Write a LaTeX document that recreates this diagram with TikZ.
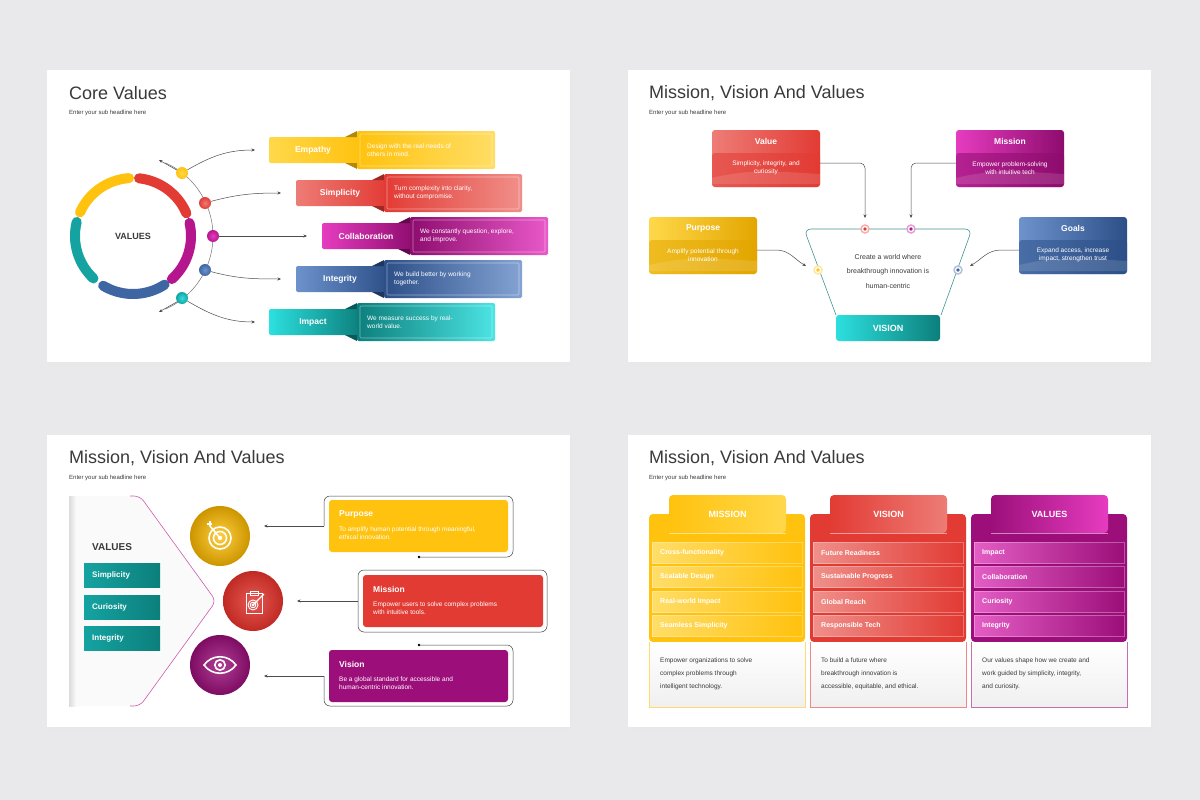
\documentclass[tikz,border=0pt]{standalone}
\usepackage{fontspec}
\setmainfont{Liberation Sans}
\usetikzlibrary{arrows.meta}
\definecolor{bgc}{HTML}{E9E8EA}
\definecolor{ttl}{HTML}{3A3A3A}
\definecolor{yelL}{HTML}{FFD84A}\definecolor{yel}{HTML}{FFC20E}\definecolor{yelD}{HTML}{E3A600}
\definecolor{redL}{HTML}{EE7C76}\definecolor{red}{HTML}{E23B34}\definecolor{redD}{HTML}{C02A24}
\definecolor{magL}{HTML}{E63CC0}\definecolor{mag}{HTML}{B5168E}\definecolor{magD}{HTML}{8E0C6E}
\definecolor{bluL}{HTML}{6E93CC}\definecolor{blu}{HTML}{3E66A3}\definecolor{bluD}{HTML}{2C4F88}
\definecolor{tealL}{HTML}{2CE0DF}\definecolor{teal}{HTML}{14A3A1}\definecolor{tealD}{HTML}{0C7F7C}
\definecolor{pur}{HTML}{9C0F7A}
\tikzset{
 slide/.style={fill=white},
 shadowr/.style={fill=black!9},
 ttlt/.style={anchor=west,text=ttl,font=\fontsize{18}{20}\selectfont,inner sep=0},
 subt/.style={anchor=west,text=ttl,font=\fontsize{6}{7}\selectfont,inner sep=0},
 lab/.style={text=white,font=\bfseries\fontsize{8.5}{9}\selectfont,inner sep=0},
 desc/.style={text=white,font=\fontsize{6.5}{8.5}\selectfont,inner sep=0,align=left,anchor=west},
 conn/.style={draw=black!70,line width=.5,-{Stealth[length=3.5,width=3]}},
 dot/.style={circle,inner sep=0,minimum size=12},
}
\newcommand\cvrow[7]{%
 \shade[left color=#3,right color=#4,rounded corners=2] ({#1},{#2-13}) rectangle ({#1+92},{#2+13});
 \node[lab] (#7) at ({#1+44},{#2}) {#5};
 \fill[#4!70!black] ({#1+76},{#2-13}) -- ({#1+88},{#2-19}) -- ({#1+88},{#2-13}) -- cycle;
 \fill[#4!70!black] ({#1+76},{#2+13}) -- ({#1+88},{#2+19}) -- ({#1+88},{#2+13}) -- cycle;
 \shade[left color=#4,right color=#3!85!white,rounded corners=1.5] ({#1+88},{#2-19}) rectangle ({#1+226},{#2+19});
 \draw[white,opacity=.45,line width=.6,rounded corners=1] ({#1+91},{#2-16}) rectangle ({#1+223},{#2+16});
 \node[desc] at ({#1+98},{#2}) {#6};
}
\newcommand\mvbox[7]{%
 \shade[left color=#3,right color=#4,rounded corners=3] ({#1},{#2}) rectangle ({#1+108},{#2+57});
 \fill[#4,opacity=.55,rounded corners=3] ({#1},{#2+23}) -- ({#1+108},{#2+23}) -- ({#1+108},{#2+57}) -- ({#1},{#2+57}) -- cycle;
 \fill[white,opacity=.12] ({#1},{#2+48}) .. controls ({#1+40},{#2+38}) and ({#1+70},{#2+42}) .. ({#1+108},{#2+44}) -- ({#1+108},{#2+54}) -- ({#1},{#2+54}) -- cycle;
 \node[lab] (#7) at ({#1+54},{#2+11}) {#5};
 \node[text=white,font=\fontsize{6.5}{8.5}\selectfont,align=center,inner sep=0] (#7d) at ({#1+54},{#2+38}) {#6};
}
\newcommand\rbox[7]{%
 \fill[#4,rounded corners=3] ({#1},{#2}) rectangle ({#1+#3},{#2+52});
 \node[anchor=west,lab] (#7) at ({#1+10},{#2+14}) {#5};
 \node[desc] at ({#1+10},{#2+33}) {#6};
}
\newcommand\mvcol[9]{%
 \fill[#3,rounded corners=4] ({#1},{642}) -- ({#1},{514}) -- ({#1+156},{514}) -- ({#1+156},{642}) -- cycle;
 \shade[left color=#3,right color=#2,rounded corners=4] ({#1+20},{533}) -- ({#1+20},{495}) -- ({#1+137},{495}) -- ({#1+137},{533}) -- cycle;
 \draw[white,opacity=.5,line width=.6] ({#1+20},{533}) -- ({#1+137},{533});
 \node[lab,font=\bfseries\fontsize{9}{10}\selectfont] at ({#1+78.5},{514}) {#4};
 \foreach \yy/\tt in {542/#5,566.5/#6,591/#7,615.5/#8}{
  \shade[left color=white!22!#2,right color=#3,opacity=.9] ({#1+3},{\yy}) rectangle ({#1+153},{\yy+21});
  \draw[white,opacity=.3,line width=.5] ({#1+3},{\yy}) rectangle ({#1+153},{\yy+21});
  \node[anchor=west,text=white,font=\bfseries\fontsize{7}{8}\selectfont,inner sep=0] at ({#1+11},{\yy+10.5}) {\tt};
 }
 \shade[top color=white,bottom color=black!6] ({#1},{642}) rectangle ({#1+156},{707});
 \draw[#3!60,line width=.6] ({#1},{642}) -- ({#1},{707}) -- ({#1+156},{707}) -- ({#1+156},{642});
 \node[anchor=north west,text=ttl,font=\fontsize{6.5}{13}\selectfont,inner sep=0,align=left] at ({#1+11},{658}) {#9};
}
\begin{document}
\begin{tikzpicture}[x=1pt,y=-1pt]
\useasboundingbox (0,0) rectangle (1200,800);
\fill[bgc] (0,0) rectangle (1200,800);
\foreach \sx/\sy in {47/70,628/70,47/435,628/435}{
 \fill[shadowr] (\sx+2,\sy+3) rectangle (\sx+525,\sy+296);
 \fill[slide] (\sx,\sy) rectangle (\sx+523,\sy+292);
}
% ================= SLIDE 1 =================
\node[ttlt] at (69,93) {Core Values};
\node[subt] at (69,113) {Enter your sub headline here};
\foreach \a/\b/\c in {94/156/yel,23/84/red,-48/13/mag,-121/-57/blu,166/227/teal}{
 \draw[line width=10,line cap=round,\c] plot[domain=\a:\b,samples=30,smooth] ({133+58*cos(\x)},{236-58*sin(\x)});
}
\node[text=ttl,font=\bfseries\fontsize{9}{9}\selectfont] (vals) at (133,236) {VALUES};
\draw[black!55,line width=.5] plot[domain=-66:66,samples=40,smooth] ({133+80*cos(\x)},{236-80*sin(\x)});
\draw[conn] (182,173) -- (159,160);
\draw[conn] (182,299) -- (159,312);
\node[dot,inner color=yelL,outer color=yel] (d1) at (182,173) {};
\node[dot,inner color=redL,outer color=red] (d2) at (205,203) {};
\node[dot,inner color=magL,outer color=mag] (d3) at (213,236) {};
\node[dot,inner color=bluL,outer color=blu] (d4) at (205,270) {};
\node[dot,inner color=tealL,outer color=teal] (d5) at (182,298) {};
\cvrow{269}{150}{yelL}{yel}{Empathy}{Design with the real needs of\\others in mind.}{l1}
\cvrow{296}{193}{redL}{red}{Simplicity}{Turn complexity into clarity,\\without compromise.}{l2}
\cvrow{322}{236}{magL}{magD}{Collaboration}{We constantly question, explore,\\and improve.}{l3}
\cvrow{296}{279}{bluL}{bluD}{Integrity}{We build better by working\\together.}{l4}
\cvrow{269}{322}{tealL}{tealD}{Impact}{We measure success by real-\\world value.}{l5}
\coordinate (e1) at (255,150);\coordinate (e2) at (281,193);\coordinate (e3) at (307,236);
\coordinate (e4) at (281,279);\coordinate (e5) at (255,322);
\draw[conn] (d1) to[out=30,in=180] (e1);
\draw[conn] (d2) to[out=15,in=180] (e2);
\draw[conn] (d3) -- (e3);
\draw[conn] (d4) to[out=-15,in=180] (e4);
\draw[conn] (d5) to[out=-30,in=180] (e5);
% ================= SLIDE 2 =================
\node[ttlt] at (649,93) {Mission, Vision And Values};
\node[subt] at (649,113) {Enter your sub headline here};
\mvbox{712}{130}{redL}{red}{Value}{Simplicity, integrity, and\\curiosity}{bv}
\mvbox{956}{130}{magL}{magD}{Mission}{Empower problem-solving\\with intuitive tech}{bm}
\mvbox{649}{217}{yelL}{yelD}{Purpose}{Amplify potential through\\innovation}{bp}
\mvbox{1019}{217}{bluL}{bluD}{Goals}{Expand access, increase\\impact, strengthen trust}{bg}
\draw[teal!55!gray,line width=.6,rounded corners=7] (836,315) -- (804,229) -- (972,229) -- (941,315);
\shade[left color=tealL,right color=tealD,rounded corners=3] (836,315) rectangle (940,341);
\node[lab,font=\bfseries\fontsize{9}{9}\selectfont] (vis) at (888,328) {VISION};
\node[text=ttl,font=\fontsize{7}{14.5}\selectfont,align=center] (ctext) at (888,271) {Create a world where\\breakthrough innovation is\\human-centric};
\foreach \n/\px/\py/\c in {fr/865/229/red,fm/911/229/mag,fy/818/270/yel,fb/958/270/blu}{
 \node[circle,draw=\c!40,line width=1.5,fill=white,inner sep=0,minimum size=8] (\n) at (\px,\py) {};
 \fill[\c] (\px,\py) circle (1.8);
}
\coordinate (t1) at (865,218);\coordinate (t2) at (911,218);
\coordinate (t3) at (806,266);\coordinate (t4) at (970,266);
\draw[conn,rounded corners=5] (820,163) -- (865,163) -- (t1);
\draw[conn,rounded corners=5] (956,163) -- (911,163) -- (t2);
\draw[conn] (757,250) -- (776,250) to[out=0,in=150] (t3);
\draw[conn] (1019,250) -- (1001,250) to[out=180,in=30] (t4);
% ================= SLIDE 3 =================
\node[ttlt] at (69,458) {Mission, Vision And Values};
\node[subt] at (69,478) {Enter your sub headline here};
\fill[black!2] (69,496) -- (140,496) -- (216,601) -- (140,706) -- (69,706) -- cycle;
\shade[left color=black!14,right color=black!2] (69,496) rectangle (76,706);
\draw[mag!70,line width=.6,rounded corners=6] (130,496) -- (140,496) -- (216,601) -- (140,706) -- (130,706);
\node[anchor=west,text=ttl,font=\bfseries\fontsize{10}{11}\selectfont,inner sep=0] (vt) at (92,547) {VALUES};
\foreach \yy/\tt/\nn in {563/Simplicity/s1,595/Curiosity/s2,626/Integrity/s3}{
 \shade[left color=teal,right color=tealD] (84,\yy) rectangle (160,\yy+24);
 \node[anchor=west,text=white,font=\bfseries\fontsize{8}{8}\selectfont,inner sep=0] (\nn) at (92,\yy+12) {\tt};
}
\node[circle,minimum size=60,inner sep=0,inner color=yel!80!white,outer color=yelD!90!black] (c1) at (220,536) {};
\node[circle,minimum size=60,inner sep=0,inner color=red!85!white,outer color=redD] (c2) at (253,601) {};
\node[circle,minimum size=60,inner sep=0,inner color=pur!80!white,outer color=pur!80!black] (c3) at (220,665) {};
\begin{scope}[white,line width=1.6]
\draw (220,538) circle (11); \draw (220,538) circle (6.5); \fill[white] (220,538) circle (2.2);
\draw (220,538) -- (210,526); \draw[line width=1.2] (207,524) -- (212,524) (210,521) -- (210,526);
\end{scope}
\begin{scope}[white,line width=.9]
\draw (246,593) rectangle (262,613); \draw (250,591) rectangle (258,595);
\draw (253,605) circle (5); \draw (253,605) circle (2.8); \draw (253,605) circle (1);
\draw[line width=1.3] (253,605) -- (264,594);
\end{scope}
\begin{scope}[white,line width=1.6]
\draw (204,665) .. controls (212,654) and (228,654) .. (236,665) .. controls (228,676) and (212,676) .. (204,665) -- cycle;
\draw (220,665) circle (5.2); \fill[white] (220,665) circle (2);
\end{scope}
\rbox{329}{500}{179}{yel}{Purpose}{To amplify human potential through meaningful,\\ethical innovation.}{p1}
\rbox{363}{575}{180}{red}{Mission}{Empower users to solve complex problems\\with intuitive tools.}{p2}
\rbox{329}{650}{179}{pur}{Vision}{Be a global standard for accessible and\\human-centric innovation.}{p3}
\coordinate (q1) at (264,526);\coordinate (q2) at (297,601);\coordinate (q3) at (264,676);
\draw[black!75,line width=.5,rounded corners=6] (419,557) -- (513,557) -- (513,496) -- (324,496) -- (324,526);
\draw[conn] (324,526) -- (q1);
\fill[black] (419,557) circle (1.3);
\draw[black!75,line width=.5,rounded corners=6] (358,601) -- (358,570) -- (547,570) -- (547,632) -- (358,632) -- (358,601);
\draw[conn] (358,601) -- (q2);
\draw[black!75,line width=.5,rounded corners=6] (419,645) -- (513,645) -- (513,706) -- (324,706) -- (324,676);
\draw[conn] (324,676) -- (q3);
\fill[black] (419,645) circle (1.3);
% ================= SLIDE 4 =================
\node[ttlt] at (649,458) {Mission, Vision And Values};
\node[subt] at (649,478) {Enter your sub headline here};
\mvcol{649}{yelL}{yel}{MISSION}{Cross-functionality}{Scalable Design}{Real-world Impact}{Seamless Simplicity}{Empower organizations to solve\\complex problems through\\intelligent technology.}
\mvcol{810}{redL}{red}{VISION}{Future Readiness}{Sustainable Progress}{Global Reach}{Responsible Tech}{To build a future where\\breakthrough innovation is\\accessible, equitable, and ethical.}
\mvcol{971}{magL}{pur}{VALUES}{Impact}{Collaboration}{Curiosity}{Integrity}{Our values shape how we create and\\work guided by simplicity, integrity,\\and curiosity.}
\end{tikzpicture}
\end{document}
